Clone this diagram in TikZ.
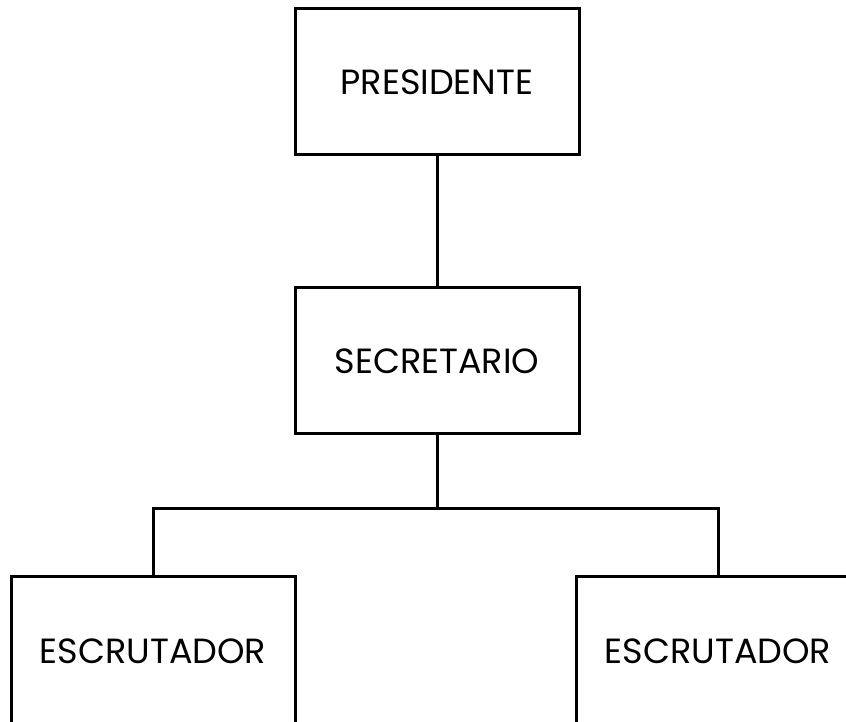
\documentclass[tikz,border=0pt]{standalone}
\usepackage{fontspec}
\setmainfont{Poppins}
\usetikzlibrary{positioning, calc}
\tikzstyle{block} = [rectangle, draw, line width=3pt, text centered,
    minimum width=284pt, minimum height=146pt, font=\fontsize{35}{40}\selectfont]
\tikzstyle{line} = [draw, line width=3pt]

\begin{document}
\begin{tikzpicture}[x=1pt, y=1pt, node distance = 279pt]
   % Page frame
    \fill [white] (0,0) rectangle (846,721);
    \clip (0,0) rectangle (846,721);
   % Place nodes
    \node [block] (presidente) at (437,639) {PRESIDENTE};
    \node [block, below of=presidente] (secretario) {SECRETARIO};
    \node [block, minimum height=150pt, below of=secretario, node distance = 290pt, xshift=-284pt] (escizq) {ESCRUTADOR};
    \node [block, minimum height=150pt, below of=secretario, node distance = 290pt, xshift=281pt] (escder) {ESCRUTADOR};
   % Draw edges
    \path [line] (presidente) -- (secretario);
    \path [line] (secretario.south) -- ++(0,-73) coordinate (barra);
    \path [line] (escizq.north) |- (barra) -| (escder.north);
  \end{tikzpicture}
\end{document}
